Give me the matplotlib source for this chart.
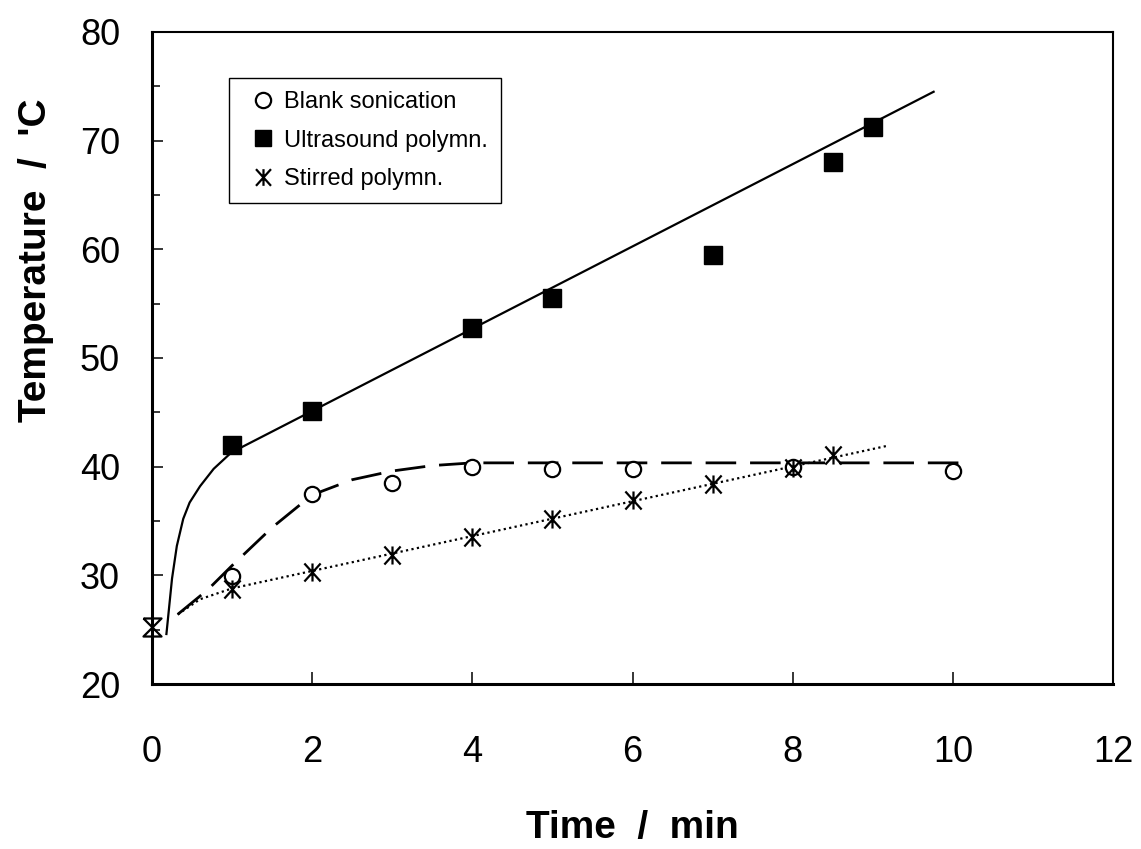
import numpy as np
import matplotlib
matplotlib.use("Agg")
import matplotlib.pyplot as plt
from matplotlib.path import Path
from matplotlib.lines import Line2D

plt.rcParams['font.family'] = ['Liberation Sans', 'DejaVu Sans']

# measured points
blank_t = [1, 2, 3, 4, 5, 6, 8, 10]
blank_T = [29.9, 37.5, 38.5, 40.0, 39.8, 39.8, 40.0, 39.6]

us_t = [1, 2, 4, 5, 7, 8.5, 9]
us_T = [42.0, 45.1, 52.8, 55.5, 59.5, 68.0, 71.3]

stir_t = [1, 2, 3, 4, 5, 6, 7, 8, 8.5]
stir_T = [28.7, 30.3, 31.9, 33.5, 35.2, 36.9, 38.4, 39.9, 41.1]

start_t = [0]
start_T = [25.2]

# trend lines as drawn on the chart
us_fit_t = [0.18, 0.25, 0.31, 0.39, 0.47, 0.60, 0.77, 0.99, 9.76]
us_fit_T = [24.6, 29.7, 32.7, 35.2, 36.7, 38.2, 39.8, 41.3, 74.5]

blank_fit_t = [0.32, 0.7, 1.0, 1.5, 2.0, 2.5, 3.0, 3.5, 4.0, 10.17]
blank_fit_T = [26.4, 28.7, 30.9, 34.4, 37.4, 38.8, 39.6, 40.1, 40.35, 40.35]

stir_fit_t = [0.32, 0.6, 1.0, 9.17]
stir_fit_T = [26.4, 27.8, 28.8, 41.9]

# marker shapes
star = Path([(0, -1), (0, 1), (-0.9, -1), (0.9, 1), (-0.9, 1), (0.9, -1)],
            [Path.MOVETO, Path.LINETO, Path.MOVETO, Path.LINETO, Path.MOVETO, Path.LINETO])
bowtie = Path([(-1, 1), (1, 1), (-1, -1), (1, -1), (-1, 1)],
              [Path.MOVETO, Path.LINETO, Path.LINETO, Path.LINETO, Path.LINETO])

fig = plt.figure(figsize=(11.41, 8.49), dpi=100)
ax = fig.add_axes([152 / 1141, 1 - 684 / 849, 961 / 1141, 652 / 849])

ax.plot(us_fit_t, us_fit_T, color='black', lw=1.6)
ax.plot(blank_fit_t, blank_fit_T, color='black', lw=2.0, dashes=(11, 5))
ax.plot(stir_fit_t, stir_fit_T, color='black', lw=1.6, linestyle=(0, (1, 1.5)))

ax.plot(blank_t, blank_T, 'o', ms=11, mfc='white', mec='black', mew=1.6, ls='none')
ax.plot(us_t, us_T, 's', ms=13, mfc='black', mec='black', ls='none')
ax.plot(stir_t, stir_T, marker=star, ms=13, color='black', mew=1.6, ls='none')
ax.plot(start_t, start_T, marker=bowtie, ms=13, mfc='none', mec='black', mew=1.6,
        ls='none', clip_on=False)

ax.set_xlim(0, 12)
ax.set_ylim(20, 80)
ax.set_xticks(np.arange(0, 13, 2))
ax.set_yticks(np.arange(20, 81, 10))
ax.set_yticks(np.arange(25, 80, 10), minor=True)
ax.tick_params(axis='both', which='both', direction='in', labelsize=26, width=1.1)
ax.tick_params(axis='x', which='major', length=9, pad=37)
ax.tick_params(axis='y', which='major', length=8, pad=23)
ax.tick_params(axis='y', which='minor', length=6)

for side in ['left', 'bottom']:
    ax.spines[side].set_linewidth(2.2)
for side in ['top', 'right']:
    ax.spines[side].set_linewidth(1.5)

ax.set_xlabel('Time  /  min', fontsize=28, fontweight='bold')
ax.xaxis.set_label_coords(0.5, -0.194)
ax.set_ylabel("Temperature  /  'C", fontsize=28, fontweight='bold')
ax.yaxis.set_label_coords(-0.102, 0.65)

handles = [
    Line2D([], [], marker='o', ms=11, mfc='white', mec='black', mew=1.6, ls='none'),
    Line2D([], [], marker='s', ms=12, mfc='black', mec='black', ls='none'),
    Line2D([], [], marker=star, ms=12, color='black', mew=1.6, ls='none'),
]
leg = ax.legend(handles, ['Blank sonication', 'Ultrasound polymn.', 'Stirred polymn.'],
                loc='upper left', bbox_to_anchor=(77 / 961, (684 - 78) / 652),
                fontsize=17, frameon=True, fancybox=False, edgecolor='black',
                framealpha=1, borderpad=0.55, labelspacing=0.7,
                handlelength=1.8, handletextpad=0.0, borderaxespad=0)
leg.get_frame().set_linewidth(1.0)

fig.savefig('out.png', dpi=100)
